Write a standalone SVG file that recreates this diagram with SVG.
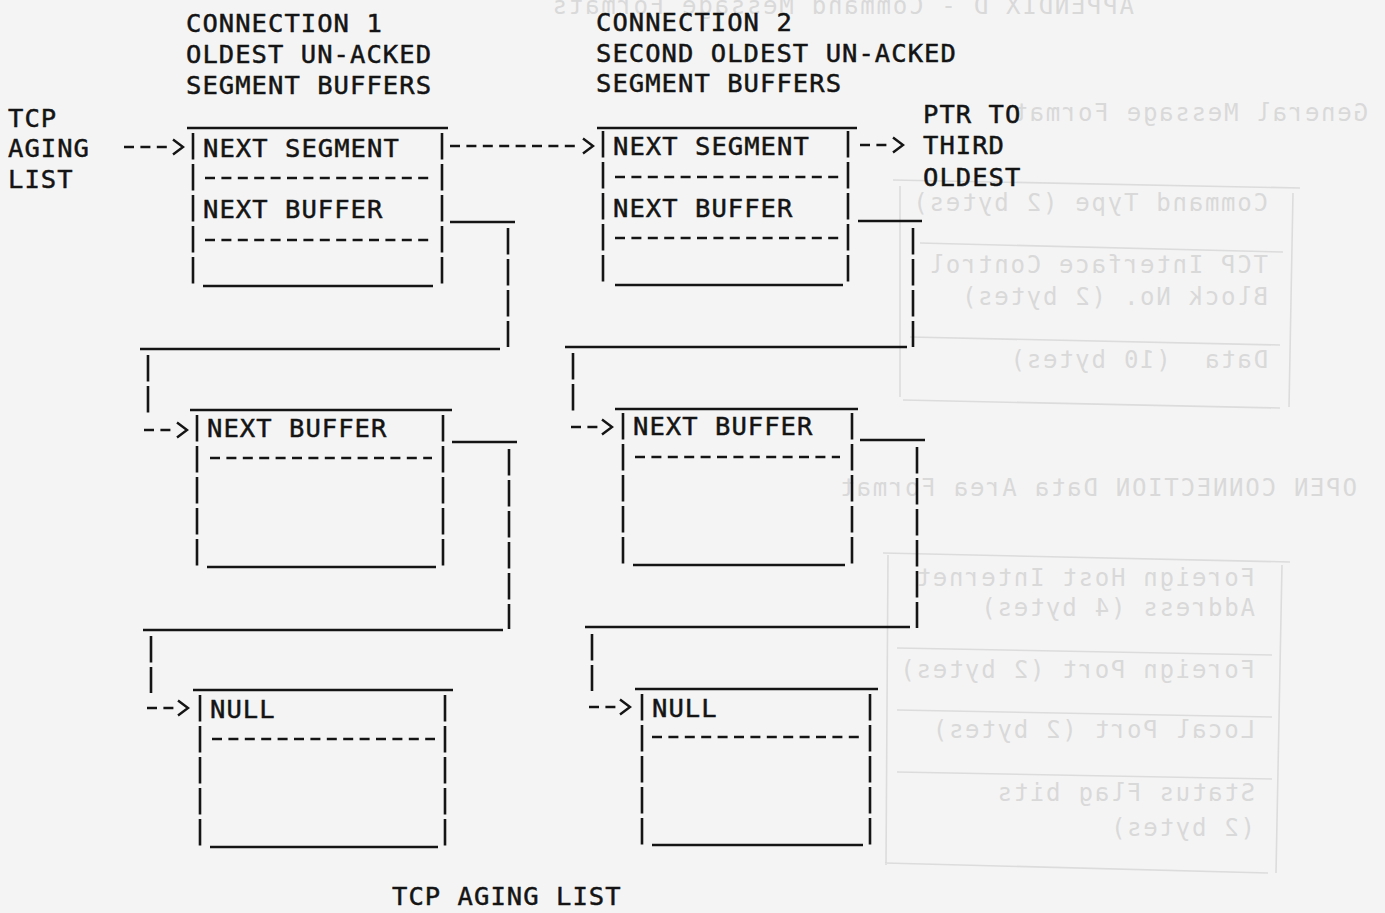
<svg xmlns="http://www.w3.org/2000/svg" width="1385" height="913" viewBox="0 0 1385 913">
<style>
.t{font-family:"DejaVu Sans Mono","Liberation Mono",monospace;font-size:25.5px;letter-spacing:1.05px;fill:#141414;stroke:#141414;stroke-width:0.5}
.g{font-family:"DejaVu Sans Mono","Liberation Mono",monospace;font-size:24px;letter-spacing:1.75px;fill:#d9d9d9}
.solid{stroke:#141414;stroke-width:2.6;fill:none}
.pipe{stroke:#141414;stroke-width:2.6;stroke-dasharray:26.5 4.5;fill:none}
.dash{stroke:#141414;stroke-width:2.4;stroke-dasharray:10 6.4;fill:none}
.arrow{marker-end:url(#chev)}
.gl{stroke:#dcdcdc;stroke-width:1.6;fill:none}
</style>
<defs>
<marker id="chev" markerUnits="userSpaceOnUse" markerWidth="16" markerHeight="18" refX="-3" refY="7.5" orient="auto" overflow="visible">
<path d="M0,0 L10,7.5 L0,15" fill="none" stroke="#141414" stroke-width="2.4"/>
</marker>
</defs>
<rect x="0" y="0" width="1385" height="913" fill="#f4f4f4"/>

<g id="bleed-through">
<text class="g" transform="translate(1134,0) scale(-1,1)" x="0" y="14">APPENDIX D - Command Message Formats</text>
<text class="g" transform="translate(1368,0) scale(-1,1)" x="0" y="121">General Message Format</text>
<path class="gl" d="M893,180 L1300,188 M900,186 L900,397 M1293,193 L1289,407 M903,400 L1280,408 M920,243 L1283,252 M910,337 L1280,345"/>
<text class="g" transform="translate(1268,0) scale(-1,1)" x="0" y="211">Command Type (2 bytes)</text>
<text class="g" transform="translate(1268,0) scale(-1,1)" x="0" y="273">TCP Interface Control</text>
<text class="g" transform="translate(1268,0) scale(-1,1)" x="0" y="305">Block No. (2 bytes)</text>
<text class="g" transform="translate(1268,0) scale(-1,1)" x="0" y="368" xml:space="preserve">Data  (10 bytes)</text>
<text class="g" transform="translate(1357,0) scale(-1,1)" x="0" y="496">OPEN CONNECTION Data Area Format</text>
<path class="gl" d="M883,553 L1290,562 M888,555 L886,865 M1282,565 L1276,873 M885,863 L1268,873 M897,648 L1272,655 M897,710 L1272,717 M897,772 L1272,779"/>
<text class="g" transform="translate(1255,0) scale(-1,1)" x="0" y="586">Foreign Host Internet</text>
<text class="g" transform="translate(1255,0) scale(-1,1)" x="0" y="616">Address (4 bytes)</text>
<text class="g" transform="translate(1255,0) scale(-1,1)" x="0" y="678">Foreign Port (2 bytes)</text>
<text class="g" transform="translate(1255,0) scale(-1,1)" x="0" y="738">Local Port (2 bytes)</text>
<text class="g" transform="translate(1255,0) scale(-1,1)" x="0" y="801">Status Flag bits</text>
<text class="g" transform="translate(1255,0) scale(-1,1)" x="0" y="836">(2 bytes)</text>
</g>

<g id="labels">
<text class="t" x="186" y="32">CONNECTION 1</text>
<text class="t" x="186" y="63">OLDEST UN-ACKED</text>
<text class="t" x="186" y="94">SEGMENT BUFFERS</text>
<text class="t" x="596" y="31">CONNECTION 2</text>
<text class="t" x="596" y="62">SECOND OLDEST UN-ACKED</text>
<text class="t" x="596" y="92">SEGMENT BUFFERS</text>
<text class="t" x="8" y="127">TCP</text>
<text class="t" x="8" y="157">AGING</text>
<text class="t" x="8" y="188">LIST</text>
<text class="t" x="923" y="123">PTR TO</text>
<text class="t" x="923" y="154">THIRD</text>
<text class="t" x="923" y="186">OLDEST</text>
<text class="t" x="392" y="905">TCP AGING LIST</text>
</g>

<g id="conn1-segment-buffer">
<line class="solid" x1="187" y1="128" x2="448" y2="128"/>
<line class="pipe" x1="193" y1="133" x2="193" y2="288"/>
<line class="pipe" x1="442" y1="133" x2="442" y2="288"/>
<line class="dash" x1="205" y1="178" x2="432" y2="178"/>
<line class="dash" x1="205" y1="240" x2="432" y2="240"/>
<line class="solid" x1="203" y1="286" x2="433" y2="286"/>
<text class="t" x="203" y="157">NEXT SEGMENT</text>
<text class="t" x="203" y="218">NEXT BUFFER</text>
</g>

<g id="conn2-segment-buffer">
<line class="solid" x1="597" y1="128" x2="857" y2="128"/>
<line class="pipe" x1="603" y1="131" x2="603" y2="286"/>
<line class="pipe" x1="848" y1="131" x2="848" y2="286"/>
<line class="dash" x1="615" y1="177" x2="840" y2="177"/>
<line class="dash" x1="615" y1="238" x2="840" y2="238"/>
<line class="solid" x1="615" y1="285" x2="843" y2="285"/>
<text class="t" x="613" y="155">NEXT SEGMENT</text>
<text class="t" x="613" y="217">NEXT BUFFER</text>
</g>

<g id="conn1-buffer-2">
<line class="solid" x1="190" y1="410" x2="452" y2="410"/>
<line class="pipe" x1="197" y1="415" x2="197" y2="570"/>
<line class="pipe" x1="443" y1="415" x2="443" y2="570"/>
<line class="dash" x1="210" y1="458" x2="432" y2="458"/>
<line class="solid" x1="207" y1="567" x2="436" y2="567"/>
<text class="t" x="207" y="437">NEXT BUFFER</text>
</g>

<g id="conn2-buffer-2">
<line class="solid" x1="615" y1="409" x2="858" y2="409"/>
<line class="pipe" x1="623" y1="413" x2="623" y2="568"/>
<line class="pipe" x1="852" y1="413" x2="852" y2="568"/>
<line class="dash" x1="635" y1="457" x2="840" y2="457"/>
<line class="solid" x1="633" y1="565" x2="845" y2="565"/>
<text class="t" x="633" y="435">NEXT BUFFER</text>
</g>

<g id="conn1-buffer-3">
<line class="solid" x1="193" y1="690" x2="453" y2="690"/>
<line class="pipe" x1="200" y1="695" x2="200" y2="850"/>
<line class="pipe" x1="445" y1="695" x2="445" y2="850"/>
<line class="dash" x1="212" y1="739" x2="435" y2="739"/>
<line class="solid" x1="210" y1="847" x2="438" y2="847"/>
<text class="t" x="210" y="718">NULL</text>
</g>

<g id="conn2-buffer-3">
<line class="solid" x1="635" y1="689" x2="878" y2="689"/>
<line class="pipe" x1="642" y1="694" x2="642" y2="849"/>
<line class="pipe" x1="870" y1="694" x2="870" y2="849"/>
<line class="dash" x1="652" y1="737" x2="860" y2="737"/>
<line class="solid" x1="652" y1="845" x2="863" y2="845"/>
<text class="t" x="652" y="717">NULL</text>
</g>

<g id="connectors">
<line class="dash arrow" x1="124" y1="147" x2="170" y2="147"/>
<line class="dash arrow" x1="450" y1="146" x2="580" y2="146"/>
<line class="dash arrow" x1="860" y1="145" x2="890" y2="145"/>
<g id="link-c1-b1-b2">
<line class="solid" x1="450" y1="222" x2="515" y2="222"/>
<line class="pipe" x1="508" y1="228" x2="508" y2="347"/>
<line class="solid" x1="140" y1="349" x2="500" y2="349"/>
<line class="pipe" x1="148" y1="355" x2="148" y2="414"/>
<line class="dash arrow" x1="144" y1="430" x2="174" y2="430"/>
</g>
<g id="link-c2-b1-b2">
<line class="solid" x1="858" y1="221" x2="922" y2="221"/>
<line class="pipe" x1="913" y1="228" x2="913" y2="347"/>
<line class="solid" x1="565" y1="347" x2="907" y2="347"/>
<line class="pipe" x1="573" y1="353" x2="573" y2="411"/>
<line class="dash arrow" x1="571" y1="427" x2="599" y2="427"/>
</g>
<g id="link-c1-b2-b3">
<line class="solid" x1="452" y1="442" x2="517" y2="442"/>
<line class="pipe" x1="509" y1="449" x2="509" y2="629"/>
<line class="solid" x1="143" y1="630" x2="503" y2="630"/>
<line class="pipe" x1="151" y1="636" x2="151" y2="693"/>
<line class="dash arrow" x1="147" y1="708" x2="175" y2="708"/>
</g>
<g id="link-c2-b2-b3">
<line class="solid" x1="860" y1="440" x2="925" y2="440"/>
<line class="pipe" x1="917" y1="447" x2="917" y2="628"/>
<line class="solid" x1="585" y1="627" x2="910" y2="627"/>
<line class="pipe" x1="592" y1="634" x2="592" y2="691"/>
<line class="dash arrow" x1="589" y1="707" x2="617" y2="707"/>
</g>
</g>
</svg>
